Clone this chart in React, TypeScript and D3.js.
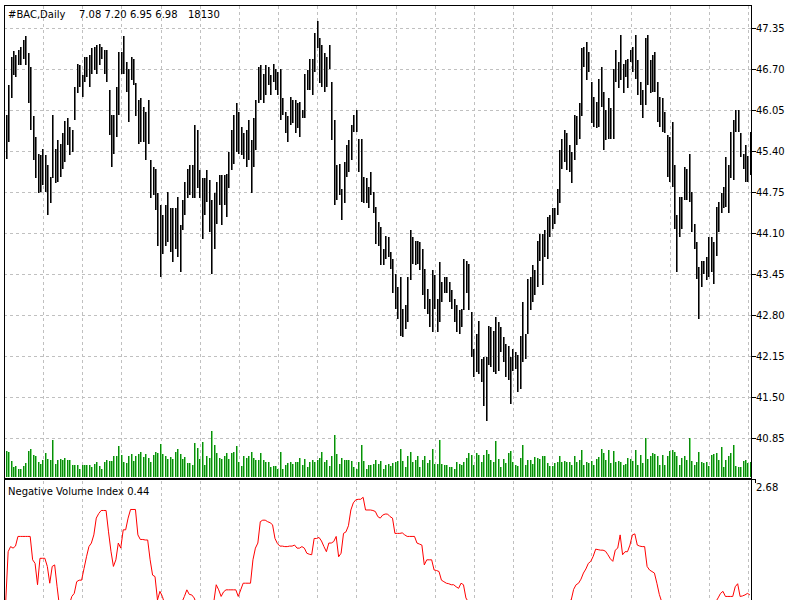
import React from 'react';
import * as d3 from 'd3';

const symbolLabel = '#BAC,Daily';
const quoteLabel = '7.08 7.20 6.95 6.98';
const volumeLabel = '18130';
const indicatorLabel = 'Negative Volume Index 0.44';

const priceTicks = [47.35, 46.70, 46.05, 45.40, 44.75, 44.10, 43.45, 42.80, 42.15, 41.50, 40.85];
const nviTicks = [2.68];

const highs = [
  45.97, 46.45, 46.90, 46.99, 46.92, 47.01, 47.06, 47.16, 47.22, 46.95,
  46.74, 45.95, 45.63, 45.36, 45.34, 45.44, 45.34, 45.18, 44.99, 45.98,
  45.44, 45.57, 45.52, 45.68, 45.88, 45.92, 45.79, 45.73, 46.42, 46.79,
  46.77, 46.61, 46.90, 46.90, 46.93, 47.03, 47.06, 47.08, 47.10, 47.06,
  47.01, 47.01, 46.37, 45.97, 45.98, 46.42, 46.98, 46.98, 47.22, 46.82,
  46.71, 46.90, 46.87, 46.48, 46.21, 46.24, 46.10, 46.02, 46.21, 45.26,
  45.15, 45.12, 44.73, 44.54, 44.38, 44.54, 44.75, 44.49, 44.49, 44.49,
  44.67, 44.22, 44.62, 44.91, 45.12, 45.18, 45.18, 45.81, 45.73, 45.10,
  44.97, 44.97, 45.10, 44.94, 44.62, 44.73, 44.91, 45.02, 45.02, 45.02,
  45.04, 45.39, 45.73, 45.97, 46.16, 46.02, 45.79, 45.68, 45.73, 45.89,
  45.57, 45.92, 46.21, 46.74, 46.76, 46.63, 46.77, 46.74, 46.61, 46.79,
  46.70, 46.66, 46.70, 46.24, 46.02, 45.95, 46.26, 46.21, 46.21, 46.16,
  46.18, 46.05, 46.63, 46.69, 46.87, 46.87, 47.27, 47.46, 47.19, 47.08,
  46.95, 46.90, 47.08, 46.50, 45.89, 45.18, 45.20, 44.80, 45.23, 45.49,
  45.57, 45.81, 45.97, 46.05, 45.60, 45.60, 44.99, 44.97, 44.83, 45.07,
  44.75, 44.51, 44.28, 44.20, 43.85, 44.06, 44.04, 43.80, 43.69, 43.45,
  43.24, 43.40, 42.90, 42.95, 43.40, 44.14, 44.04, 43.98, 43.98, 43.96,
  43.85, 43.53, 43.21, 43.06, 43.51, 43.43, 43.06, 43.64, 43.32, 43.40,
  43.40, 43.32, 43.19, 43.06, 42.95, 42.87, 42.90, 43.69, 43.66, 43.61,
  42.84, 42.26, 42.50, 42.71, 42.10, 42.13, 42.13, 42.63, 42.60, 42.55,
  42.76, 42.69, 42.60, 42.45, 42.34, 42.31, 42.13, 42.26, 42.21, 42.17,
  42.47, 43.00, 42.50, 43.37, 43.40, 43.59, 43.51, 43.98, 44.09, 44.09,
  44.14, 44.35, 44.38, 44.49, 44.49, 44.80, 45.41, 45.60, 45.73, 45.68,
  45.49, 45.39, 45.97, 45.95, 46.16, 47.03, 47.06, 47.14, 46.98, 46.50,
  46.26, 46.18, 46.55, 46.74, 46.34, 46.05, 46.24, 46.08, 46.71, 47.01,
  46.82, 47.24, 46.79, 46.85, 46.87, 47.01, 47.06, 47.24, 46.85, 46.50,
  46.37, 47.19, 47.24, 46.85, 46.93, 46.98, 46.50, 46.26, 46.24, 46.02,
  45.65, 45.63, 45.87, 45.18, 44.38, 44.67, 44.67, 45.15, 45.12, 45.36,
  44.75, 44.25, 43.96, 43.56, 43.66, 43.66, 43.72, 44.04, 44.04, 43.96,
  44.51, 44.59, 44.73, 44.83, 45.31, 45.18, 45.71, 45.89, 46.05, 46.05,
  45.68, 45.36, 45.49, 45.33, 45.71
];

const lows = [
  45.28, 45.55, 46.24, 46.61, 46.58, 46.77, 46.77, 46.87, 46.77, 46.16,
  45.73, 45.26, 44.97, 44.73, 44.75, 44.86, 44.75, 44.38, 44.57, 44.97,
  44.89, 44.91, 44.99, 45.12, 45.23, 45.49, 45.34, 45.39, 45.89, 46.32,
  46.42, 46.26, 46.50, 46.58, 46.42, 46.63, 46.69, 46.63, 46.77, 46.87,
  46.63, 46.50, 45.65, 45.15, 45.36, 45.63, 45.97, 46.63, 46.63, 46.34,
  45.87, 46.53, 46.45, 45.95, 45.52, 45.55, 45.55, 45.26, 45.52, 44.65,
  44.70, 44.46, 43.90, 43.40, 43.77, 43.90, 43.96, 43.80, 43.64, 43.85,
  43.72, 43.48, 44.14, 44.38, 44.65, 44.70, 44.65, 44.65, 44.81, 44.65,
  44.01, 44.38, 44.59, 44.12, 43.45, 43.85, 44.25, 44.54, 44.22, 44.54,
  44.36, 44.81, 45.10, 45.20, 45.39, 45.36, 45.34, 45.28, 45.15, 45.26,
  44.73, 45.15, 45.41, 46.16, 46.21, 46.16, 46.29, 46.45, 46.29, 46.50,
  46.37, 46.29, 45.89, 45.97, 45.68, 45.55, 45.81, 45.84, 45.68, 45.76,
  45.63, 45.92, 45.92, 46.37, 46.37, 46.29, 46.66, 47.03, 46.48, 46.42,
  46.34, 46.42, 46.71, 45.57, 44.54, 44.62, 44.70, 44.30, 44.57, 44.99,
  45.07, 45.26, 45.71, 45.71, 45.07, 44.59, 44.57, 44.57, 44.49, 44.70,
  44.41, 43.93, 43.90, 43.59, 43.59, 43.69, 43.72, 43.53, 43.14, 42.90,
  42.74, 42.47, 42.45, 42.58, 42.69, 43.35, 43.61, 43.59, 43.61, 43.51,
  43.11, 42.90, 42.82, 42.60, 42.53, 42.90, 42.53, 42.69, 43.00, 43.14,
  43.14, 43.00, 42.90, 42.69, 42.53, 42.50, 42.60, 42.87, 43.14, 42.87,
  42.13, 41.81, 41.89, 41.86, 41.73, 41.36, 41.12, 42.00, 41.97, 41.89,
  41.86, 41.91, 42.21, 42.05, 41.81, 41.76, 41.39, 41.91, 41.94, 41.57,
  41.62, 42.05, 42.10, 42.50, 42.87, 43.00, 43.11, 43.24, 43.66, 43.27,
  43.72, 43.69, 44.04, 44.17, 44.25, 44.38, 44.57, 45.12, 45.23, 45.10,
  45.07, 44.89, 45.26, 45.49, 45.60, 45.95, 46.74, 46.53, 46.66, 45.84,
  45.79, 45.76, 45.79, 46.10, 45.41, 45.57, 45.60, 45.60, 45.60, 46.50,
  46.40, 46.53, 46.32, 46.58, 46.40, 46.82, 46.66, 46.55, 46.29, 46.13,
  45.92, 46.13, 46.45, 46.32, 46.34, 46.34, 45.87, 45.79, 45.71, 45.68,
  44.99, 44.91, 44.83, 44.17, 43.48, 44.04, 44.17, 44.62, 44.62, 44.59,
  44.12, 43.85, 43.37, 42.74, 43.24, 43.45, 43.35, 43.40, 43.48, 43.29,
  43.74, 44.12, 44.41, 44.49, 44.51, 44.41, 44.97, 44.94, 45.71, 45.71,
  45.31, 45.12, 44.91, 44.91, 45.02
];

const volumes = [
  31200, 30000, 19200, 12000, 12800, 10000, 10000, 12800, 16800, 31200,
  33200, 26000, 24800, 18000, 16000, 20800, 28800, 22000, 20000, 44800,
  15200, 20800, 22000, 20800, 23200, 20000, 20800, 14800, 14000, 14800,
  10000, 14800, 14800, 14800, 14000, 12000, 15200, 18000, 12800, 10000,
  18000, 20800, 19200, 19200, 24800, 24800, 36800, 26000, 18000, 16800,
  24800, 28000, 19200, 24800, 28000, 30000, 24000, 28000, 23200, 18000,
  26000, 30000, 28800, 39200, 28000, 24800, 22000, 24000, 22000, 30000,
  34000, 28000, 22000, 24000, 16800, 16800, 14000, 40800, 35200, 22000,
  42000, 14000, 24800, 23200, 55200, 38000, 28800, 23200, 22000, 24800,
  28800, 22000, 28800, 30000, 36800, 18000, 12800, 24800, 23200, 24800,
  30000, 23200, 20800, 20800, 28800, 20800, 18000, 18000, 12000, 12800,
  12800, 10000, 30000, 10000, 14000, 16800, 18000, 16000, 18000, 18000,
  23200, 14000, 22000, 12000, 18000, 20000, 18000, 20800, 23200, 30000,
  18000, 20000, 12800, 24800, 50000, 28000, 16000, 23200, 20800, 20000,
  20000, 19200, 12000, 10000, 18000, 38000, 19200, 10000, 14000, 14000,
  16000, 20000, 16000, 19200, 10000, 14000, 16000, 12800, 16800, 18000,
  19200, 34000, 19200, 12000, 24800, 30000, 18000, 20000, 24800, 12000,
  20000, 24800, 16800, 20800, 34000, 16000, 16000, 44800, 15200, 14000,
  14000, 12000, 12000, 10000, 18000, 16000, 14000, 18000, 23200, 28800,
  26000, 14000, 28800, 26000, 18000, 26000, 32800, 28000, 20800, 18000,
  43200, 22000, 12000, 22000, 16800, 28800, 31200, 18000, 14000, 12800,
  23200, 38000, 14000, 20800, 20000, 16000, 24000, 23200, 22000, 24800,
  24800, 16800, 12800, 12800, 16800, 18000, 24800, 18000, 19200, 18000,
  18000, 14000, 24800, 18000, 20800, 32800, 14000, 18000, 16800, 19200,
  14000, 22000, 24000, 34000, 28800, 20800, 32000, 16800, 31200, 18000,
  19200, 18000, 14000, 15200, 23200, 22000, 19200, 32800, 14000, 26000,
  16800, 47200, 22000, 24800, 28800, 28000, 24800, 14000, 26000, 14000,
  24800, 31200, 32000, 30000, 24800, 14000, 23200, 24800, 20800, 47200,
  19200, 14000, 18000, 30000, 18000, 16800, 18000, 12800, 26000, 28000,
  28800, 20800, 36000, 12000, 20800, 24800, 28800, 38000, 12800, 12000,
  12000, 19200, 20800, 16800, 18130
];

const nvi = [
  0.30, 1.29, 1.39, 1.36, 1.40, 1.59, 1.59, 1.59, 1.59, 1.59,
  1.59, 1.13, 1.06, 0.64, 1.16, 1.16, 1.16, 1.00, 0.67, 1.00,
  1.03, 0.60, 0.20, 0.10, 0.05, 0.15, 0.25, 0.41, 0.47, 0.70,
  0.73, 0.73, 0.96, 1.19, 1.39, 1.46, 1.62, 1.95, 2.04, 2.10,
  2.10, 2.10, 1.68, 1.30, 1.00, 1.13, 1.46, 1.36, 1.72, 1.72,
  1.95, 2.12, 2.12, 2.12, 1.62, 1.53, 1.53, 1.52, 1.52, 1.13,
  0.83, 0.80, 0.34, 0.51, 0.41, 0.25, 0.15, 0.10, 0.05, 0.12,
  0.20, 0.28, 0.30, 0.41, 0.54, 0.45, 0.44, 0.38, 0.25, 0.20,
  0.15, 0.10, 0.12, 0.18, 0.25, 0.30, 0.64, 0.54, 0.41, 0.50,
  0.54, 0.54, 0.54, 0.54, 0.54, 0.41, 0.54, 0.67, 0.67, 0.67,
  0.67, 1.13, 1.36, 1.46, 1.88, 1.91, 1.91, 1.88, 1.86, 1.82,
  1.55, 1.45, 1.40, 1.40, 1.39, 1.39, 1.40, 1.40, 1.42, 1.36,
  1.36, 1.39, 1.36, 1.26, 1.24, 1.23, 1.55, 1.55, 1.57, 1.50,
  1.39, 1.29, 1.46, 1.46, 1.49, 1.59, 1.19, 1.26, 1.65, 1.68,
  1.80, 2.11, 2.25, 2.31, 2.32, 2.32, 2.36, 2.11, 2.11, 2.11,
  2.10, 2.08, 1.98, 1.95, 2.01, 2.03, 2.03, 1.98, 1.95, 1.65,
  1.65, 1.65, 1.66, 1.62, 1.59, 1.59, 1.59, 1.59, 1.46, 1.44,
  1.42, 1.03, 1.13, 1.13, 1.13, 0.93, 0.92, 0.90, 0.73, 0.70,
  0.67, 0.66, 0.64, 0.64, 0.60, 0.57, 0.67, 0.64, 0.38, 0.30,
  0.25, 0.20, 0.10, 0.05, -0.05, -0.15, -0.20, -0.10, -0.15, -0.25,
  -0.30, -0.20, -0.25, -0.35, -0.40, -0.30, -0.35, -0.45, -0.40, -0.50,
  -0.45, -0.35, -0.30, -0.20, -0.25, -0.15, -0.10, -0.05, 0.00, 0.05,
  0.10, 0.15, 0.12, 0.20, 0.18, 0.22, 0.25, 0.20, 0.28, 0.30,
  0.32, 0.34, 0.55, 0.64, 0.67, 0.75, 0.87, 0.95, 1.06, 1.10,
  1.20, 1.34, 1.33, 1.32, 1.32, 1.30, 1.23, 1.15, 1.10, 1.32,
  1.36, 1.62, 1.23, 1.29, 1.29, 1.42, 1.62, 1.64, 1.42, 1.40,
  1.39, 1.39, 1.00, 0.93, 0.90, 0.87, 0.67, 0.45, 0.30, 0.25,
  0.20, 0.10, 0.05, 0.00, -0.05, 0.02, -0.08, -0.12, -0.05, 0.00,
  0.05, 0.10, 0.08, 0.15, 0.12, 0.18, 0.20, 0.15, 0.22, 0.25,
  0.30, 0.38, 0.47, 0.51, 0.41, 0.41, 0.41, 0.41, 0.60, 0.66,
  0.41, 0.42, 0.44, 0.47, 0.44
];

const FONT = '"DejaVu Sans", Verdana, sans-serif';

export default function App() {
  const W = 800;
  const H = 600;
  const left = 4;
  const right = 751.5;
  const top = 5.5;
  const mainBottom = 478;
  const subTop = 480;
  const n = highs.length;

  const x = d3.scaleLinear().domain([0, n - 1]).range([5.7, 749.9]);
  const y = d3.scaleLinear().domain([40.85, 47.35]).range([437.7, 28.3]);
  const yVol = d3.scaleLinear().domain([0, 55200]).range([477, 431]);
  const yN = d3.scaleLinear().domain([0.34, 2.68]).range([600, 481]);

  const gridBars = d3.range(19).map((k) => 15.25 + 16 * k);
  const px = (i: number) => Math.round(x(i));

  const nviLine = d3
    .line<number>()
    .x((_, i) => x(i))
    .y((d) => yN(d));

  return (
    <svg
      width={W}
      height={H}
      style={{ position: 'absolute', left: 0, top: 0, background: '#fff' }}
      fontFamily={FONT}
    >
      <defs>
        <clipPath id="mainClip">
          <rect x={left} y={top} width={right - left} height={mainBottom - top} />
        </clipPath>
        <clipPath id="subClip">
          <rect x={left} y={subTop + 1} width={right - left} height={200} />
        </clipPath>
      </defs>
      <rect x={0} y={0} width={W} height={H} fill="#fff" />

      {/* grid main */}
      <g stroke="#c0c0c0" strokeWidth={1} strokeDasharray="3,3" shapeRendering="crispEdges">
        {priceTicks.map((p) => (
          <line key={'h' + p} x1={left} x2={right} y1={Math.round(y(p)) + 0.5} y2={Math.round(y(p)) + 0.5} />
        ))}
        {gridBars.map((b) => (
          <line key={'v' + b} x1={Math.round(x(b)) + 0.5} x2={Math.round(x(b)) + 0.5} y1={top} y2={mainBottom} />
        ))}
        {gridBars.map((b) => (
          <line key={'vs' + b} x1={Math.round(x(b)) + 0.5} x2={Math.round(x(b)) + 0.5} y1={subTop + 1} y2={H} />
        ))}
      </g>

      {/* volumes */}
      <g clipPath="url(#mainClip)" shapeRendering="crispEdges">
        {volumes.map((v, i) => (
          <g key={'v' + i}>
            <rect x={px(i)} y={yVol(v)} width={1} height={yVol(0) - yVol(v)} fill="#0a8a0a" />
            <rect x={px(i) + 1} y={yVol(v)} width={1} height={yVol(0) - yVol(v)} fill="#7ed87e" />
          </g>
        ))}
      </g>

      {/* price bars */}
      <g clipPath="url(#mainClip)" shapeRendering="crispEdges">
        {highs.map((h, i) => (
          <g key={'b' + i}>
            <rect x={px(i)} y={y(h)} width={1} height={y(lows[i]) - y(h)} fill="#000" />
            <rect x={px(i) + 1} y={y(h)} width={1} height={y(lows[i]) - y(h)} fill="#6e6e6e" />
          </g>
        ))}
      </g>

      {/* NVI */}
      <g clipPath="url(#subClip)">
        <path d={nviLine(nvi) || ''} fill="none" stroke="#ff0000" strokeWidth={1} />
      </g>

      {/* frames */}
      <g stroke="#000" fill="none" shapeRendering="crispEdges">
        <line x1={left} x2={right} y1={top} y2={top} />
        <line x1={left + 0.5} x2={left + 0.5} y1={top} y2={H} />
        <line x1={right} x2={right} y1={top} y2={H} />
        <line x1={left} x2={right} y1={mainBottom + 0.5} y2={mainBottom + 0.5} />
        <line x1={left} x2={right} y1={subTop - 0.5} y2={subTop - 0.5} />
      </g>

      {/* price axis */}
      <g fontSize={10} fill="#000">
        {priceTicks.map((p) => (
          <g key={'t' + p}>
            <line x1={right} x2={right + 4} y1={Math.round(y(p)) + 0.5} y2={Math.round(y(p)) + 0.5} stroke="#000" shapeRendering="crispEdges" />
            <text x={right + 4.5} y={y(p) + 3.8}>{p.toFixed(2)}</text>
          </g>
        ))}
        {nviTicks.map((v) => (
          <g key={'n' + v}>
            <line x1={right} x2={right + 4} y1={yN(v) - 1.5} y2={yN(v) - 1.5} stroke="#000" shapeRendering="crispEdges" />
            <line x1={right + 4} x2={right + 4} y1={yN(v) - 1.5} y2={yN(v) + 1.5} stroke="#000" shapeRendering="crispEdges" />
            <text x={right + 4.5} y={yN(v) + 10}>{v.toFixed(2)}</text>
          </g>
        ))}
      </g>

      {/* labels */}
      <text x={8} y={18} fontSize={10} fill="#000">
        <tspan x={8}>{symbolLabel}</tspan>
        <tspan x={79}>{quoteLabel}</tspan>
        <tspan x={188}>{volumeLabel}</tspan>
      </text>
      <text x={8} y={495} fontSize={10} fill="#000">{indicatorLabel}</text>
    </svg>
  );
}
